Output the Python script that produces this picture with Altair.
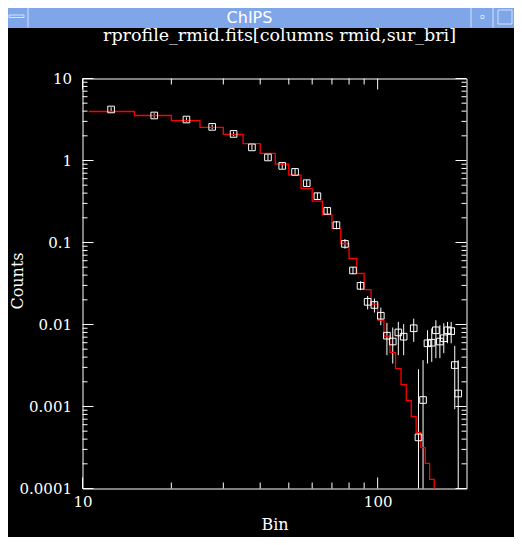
import altair as alt
import pandas as pd

WINDOW_TITLE = "ChIPS"
PLOT_TITLE = "rprofile_rmid.fits[columns rmid,sur_bri]"
X_TITLE = "Bin"
Y_TITLE = "Counts"

# data points (bin centre, surface brightness, error bar top / bottom)
bin_x = [12.5, 17.5, 22.5, 27.5, 32.5, 37.5, 42.5, 47.5, 52.5, 57.5, 62.5, 67.5,
         72.5, 77.5, 82.5, 87.5, 92.5, 97.5, 102.5, 107.5, 112.5, 117.5, 122.5,
         132.5, 137.5, 142.5, 147.5, 152.5, 157.5, 162.5, 167.5, 172.5, 177.5,
         182.5, 187.5]
counts = [4.19, 3.54, 3.16, 2.57, 2.11, 1.445, 1.089, 0.859, 0.726, 0.529, 0.367,
          0.243, 0.1626, 0.0961, 0.0456, 0.0296, 0.0189, 0.0173, 0.0128, 0.0073,
          0.0062, 0.0080, 0.0071, 0.0090, 0.00042, 0.0012, 0.0059, 0.0060, 0.0085,
          0.0062, 0.0068, 0.0085, 0.0083, 0.0032, 0.00144]
err_hi = [4.45, 3.76, 3.36, 2.74, 2.25, 1.55, 1.17, 0.93, 0.79, 0.58, 0.405, 0.27,
          0.183, 0.110, 0.0504, 0.0337, 0.0223, 0.0207, 0.0161, 0.01046, 0.0092,
          0.01076, 0.0101, 0.0118, 0.00285, 0.00367, 0.00852, 0.00894, 0.01128,
          0.0098, 0.01037, 0.01076, 0.01076, 0.00548, 0.00367]
err_lo = [3.95, 3.33, 2.97, 2.41, 1.98, 1.35, 1.01, 0.79, 0.67, 0.48, 0.333, 0.219,
          0.145, 0.084, 0.0411, 0.0262, 0.01524, 0.0140, 0.0098, 0.00422, 0.00334,
          0.00422, 0.00422, 0.00614, 0.00001, 0.00001, 0.00334, 0.0035, 0.00388,
          0.00388, 0.00447, 0.00592, 0.0059, 0.000927, 0.00001]

# model (red step), left bin edges and values
model_edge = [10.5, 15, 20, 25, 30, 35, 40, 45, 50, 55, 60, 65, 70, 75, 80, 85, 90,
              95, 100, 105, 110, 115, 120, 125, 130, 135, 140, 145, 150, 155.5]
model_val = [3.96, 3.54, 3.07, 2.53, 2.08, 1.61, 1.22, 0.901, 0.662, 0.456, 0.319,
             0.2196, 0.148, 0.0972, 0.0638, 0.0419, 0.0267, 0.0177, 0.01128, 0.0072,
             0.00456, 0.0029, 0.00185, 0.00118, 0.000755, 0.000482, 0.000316,
             0.000202, 0.000129, 0.00001]

X_MAJOR = [10, 100]
X_MINOR = [20, 30, 40, 50, 60, 70, 80, 90]
Y_MAJOR = [0.0001, 0.001, 0.01, 0.1, 1, 10]
Y_MINOR = [m * 10.0 ** e for e in range(-4, 1) for m in range(2, 10)]

W, H = 384, 410
FRAME_BLUE = "#7fa6e8"
LIGHT = "#d6e2fa"
SERIF = "DejaVu Serif"

pts = pd.DataFrame({"x": bin_x, "y": counts, "hi": err_hi, "lo": err_lo})
model = pd.DataFrame({"x": model_edge, "y": model_val})
one = pd.DataFrame({"k": [0]})

xs = alt.Scale(type="log", domain=[10, 200], nice=False, zero=False)
ys = alt.Scale(type="log", domain=[0.0001, 10], nice=False, zero=False)
xa = alt.Axis(values=X_MAJOR, format="~g", title=X_TITLE, ticks=False, domain=False,
              grid=False, labelFlush=False, labelPadding=6, labelFont=SERIF,
              labelFontSize=15, labelColor="white", titleFont=SERIF, titleFontSize=16,
              titleColor="white", titleFontWeight="normal", titleY=41,
              titleBaseline="alphabetic")
ya = alt.Axis(values=Y_MAJOR, format="~g", title=Y_TITLE, ticks=False, domain=False,
              grid=False, labelFlush=False, labelPadding=11, labelFont=SERIF,
              labelFontSize=15, labelColor="white", labelOverlap=False,
              titleFont=SERIF, titleFontSize=16, titleColor="white",
              titleFontWeight="normal", titleX=-65, titleY=202, titleAngle=270,
              titleAlign="center", titleBaseline="middle")

X = lambda f: alt.X(f, type="quantitative", scale=xs, axis=xa)
Y = lambda f: alt.Y(f, type="quantitative", scale=ys, axis=ya)

errbars = alt.Chart(pts).mark_rule(color="white", strokeWidth=1, clip=True).encode(
    x=X("x"), y=Y("lo"), y2="hi")
squares = alt.Chart(pts).mark_point(shape="square", filled=False, color="white",
                                    size=44, strokeWidth=1, opacity=1).encode(
    x=X("x"), y=Y("y"))
red = alt.Chart(model).mark_line(color="#ff0000", strokeWidth=1.3,
                                 interpolate="step-after", clip=True).encode(
    x=X("x"), y=Y("y"))

def yticks(vals, length):
    d = pd.DataFrame({"y": vals})
    l = alt.Chart(d).mark_rule(color="white").encode(
        y=Y("y"), x=alt.value(0), x2=alt.value(length))
    r = alt.Chart(d).mark_rule(color="white").encode(
        y=Y("y"), x=alt.value(W - length), x2=alt.value(W))
    return [l, r]

def xticks(vals, length):
    d = pd.DataFrame({"x": vals})
    b = alt.Chart(d).mark_rule(color="white").encode(
        x=X("x"), y=alt.value(H), y2=alt.value(H - length))
    t = alt.Chart(d).mark_rule(color="white").encode(
        x=X("x"), y=alt.value(0), y2=alt.value(length))
    return [b, t]

ticks = yticks(Y_MAJOR, 11) + yticks(Y_MINOR, 5) + xticks(X_MAJOR, 11) + xticks(X_MINOR, 6)

# window chrome
bar = alt.Chart(one).mark_rect(color=FRAME_BLUE).encode(
    x=alt.value(-90), x2=alt.value(W + 60), y=alt.value(-80), y2=alt.value(-50.5))
seps = [alt.Chart(one).mark_rule(color=LIGHT, strokeWidth=1).encode(
    x=alt.value(v), y=alt.value(-78), y2=alt.value(-51)) for v in (-54.5, 388.5, 410.5)]
btn_left = alt.Chart(one).mark_rect(fill=FRAME_BLUE, stroke=LIGHT, strokeWidth=1).encode(
    x=alt.value(-73.5), x2=alt.value(-58.5), y=alt.value(-63.5), y2=alt.value(-61))
btn_dot = alt.Chart(one).mark_rect(fill=FRAME_BLUE, stroke=LIGHT, strokeWidth=1).encode(
    x=alt.value(398.5), x2=alt.value(401.5), y=alt.value(-63), y2=alt.value(-60))
btn_sq = alt.Chart(one).mark_rect(fill=FRAME_BLUE, stroke=LIGHT, strokeWidth=1).encode(
    x=alt.value(415.5), x2=alt.value(429.5), y=alt.value(-68.5), y2=alt.value(-54.5))
wtitle = alt.Chart(one).mark_text(text=WINDOW_TITLE, font="DejaVu Sans", fontSize=16,
                                  color="white", align="center",
                                  baseline="alphabetic").encode(
    x=alt.value(167), y=alt.value(-56))
ptitle = alt.Chart(one).mark_text(text=PLOT_TITLE, font=SERIF, fontSize=17.5,
                                  color="white", align="center",
                                  baseline="alphabetic").encode(
    x=alt.value(197), y=alt.value(-37.5))

chart = alt.layer(
    bar, *seps, btn_left, btn_dot, btn_sq, wtitle, ptitle,
    errbars, red, squares, *ticks
).properties(
    width=W, height=H,
    padding={"left": 74.5, "top": 70.5, "right": 47.5, "bottom": 48.5},
    autosize=alt.AutoSizeParams(type="none"),
    background="black",
).configure_view(stroke="white", strokeWidth=1)

chart.save("out.html", embed_options={"renderer": "svg", "actions": False})
